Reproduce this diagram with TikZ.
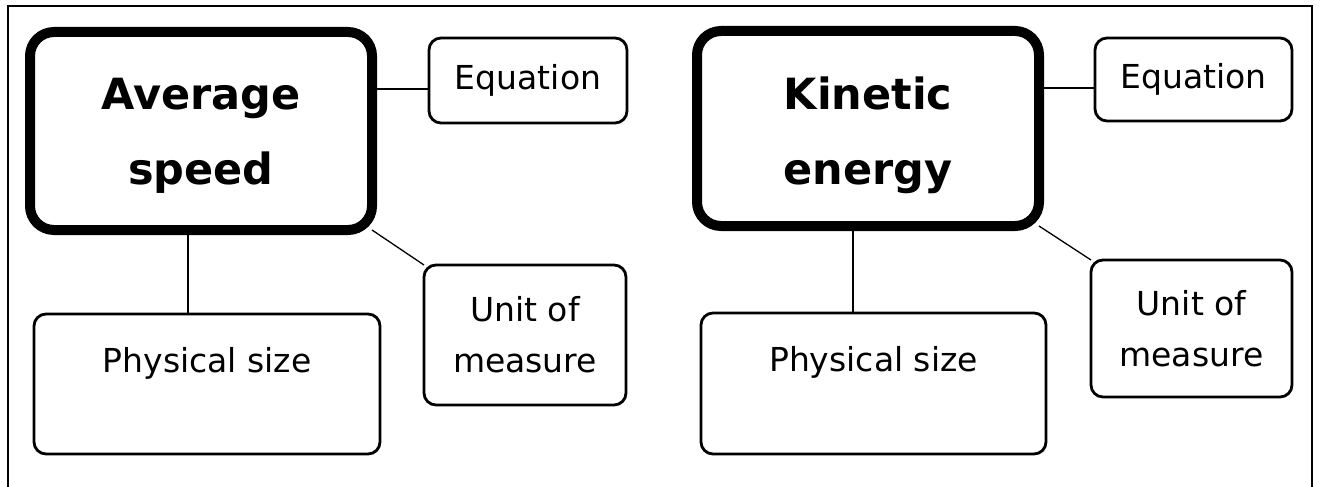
\documentclass[tikz,border=0pt]{standalone}
\usepackage{fontspec}
\setmainfont{DejaVu Sans}
\begin{document}
\begin{tikzpicture}[x=1pt,y=-1pt,
  mainbox/.style={draw, line width=10pt, rounded corners=24pt, inner sep=0pt, outer sep=0pt},
  maintext/.style={align=center, inner sep=0pt, font=\fontsize{43}{75}\selectfont\bfseries},
  smallbox/.style={draw, line width=2.8pt, rounded corners=12pt, align=center, inner sep=0pt, outer sep=0pt,
     font=\fontsize{33}{51}\selectfont},
  conn/.style={line width=1.3pt}]
\useasboundingbox (0,0) rectangle (1320,487);
\draw[line width=2pt] (8,495) -- (8,6) -- (1312,6) -- (1312,495);
% left panel
\node[mainbox, minimum width=342pt, minimum height=198pt] (mainA) at (201,131) {};
\node[maintext] (mainAtxt) at ([yshift=-5pt]mainA.center) {Average\\speed};
\node[smallbox, minimum width=198pt, minimum height=85pt] (eqA) at (528,80.5) {\raisebox{-2pt}{Equation}};
\node[smallbox, minimum width=202pt, minimum height=140pt] (unitA) at (525,335) {Unit of\\measure};
\node[smallbox, minimum width=346pt, minimum height=140pt] (psA) at (207,384) {Physical size\\[-18pt]\strut};
\draw[conn] ([yshift=-8.5pt]eqA.west -| mainA.east) -- ([yshift=-8.5pt]eqA.west);
\draw[conn] (mainA.south east) -- (unitA.north west);
\draw[conn] ([xshift=-13pt]mainA.south) -- ([xshift=-13pt]mainA.south |- psA.north);
% right panel
\node[mainbox, minimum width=342pt, minimum height=195pt] (mainB) at (868,128.5) {};
\node[maintext] (mainBtxt) at ([yshift=-7pt]mainB.center) {Kinetic\\energy};
\node[smallbox, minimum width=197pt, minimum height=83pt] (eqB) at (1193.5,79.5) {\raisebox{-2pt}{Equation}};
\node[smallbox, minimum width=201pt, minimum height=137pt] (unitB) at (1191.5,328.5) {Unit of\\measure};
\node[smallbox, minimum width=345pt, minimum height=141pt] (psB) at (873.5,383.5) {Physical size\\[-18pt]\strut};
\draw[conn] ([yshift=-8.5pt]eqB.west -| mainB.east) -- ([yshift=-8.5pt]eqB.west);
\draw[conn] (mainB.south east) -- (unitB.north west);
\draw[conn] ([xshift=-15pt]mainB.south) -- ([xshift=-15pt]mainB.south |- psB.north);
\end{tikzpicture}
\end{document}
